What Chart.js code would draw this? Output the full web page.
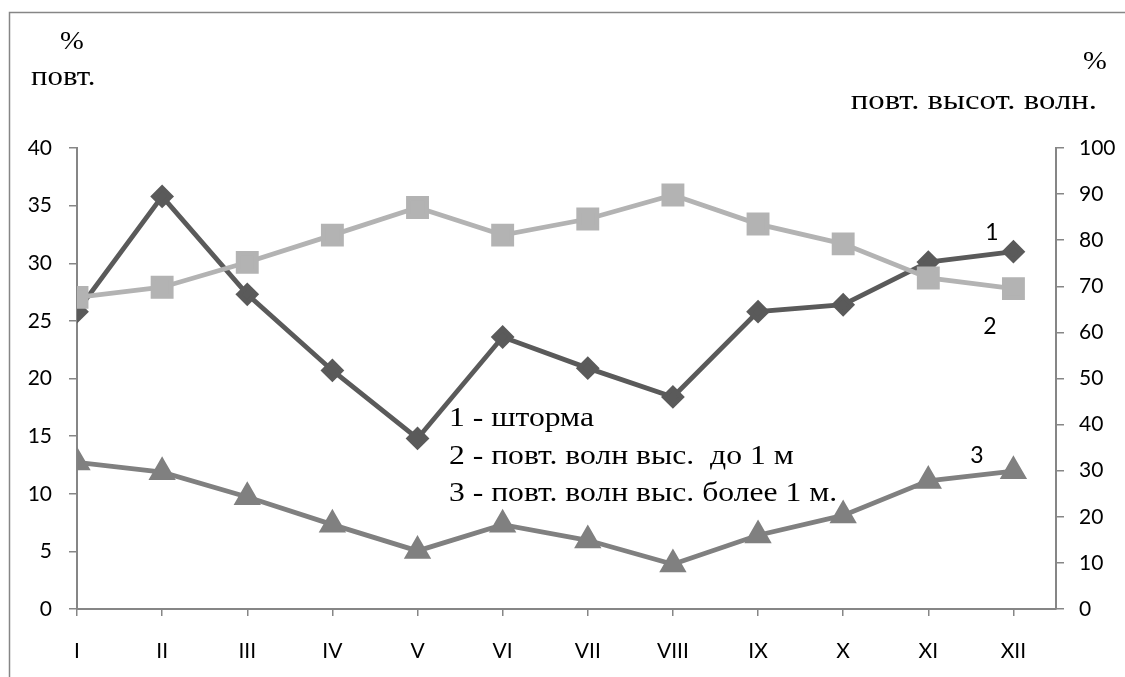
<!DOCTYPE html>
<html>
<head>
<meta charset="utf-8">
<script src="https://cdn.jsdelivr.net/npm/chart.js@4/dist/chart.umd.min.js"></script>
<style>
	html, body { margin: 0; padding: 0; background: #fff; }
	#wrap { width: 1125px; height: 677px; position: relative; }
</style>
</head>
<body>
<div id="wrap"><canvas id="chart" width="1125" height="677"></canvas></div>
<script>
const months = ["I", "II", "III", "IV", "V", "VI", "VII", "VIII", "IX", "X", "XI", "XII"];

// 1 - шторма (левая ось, %)
const storms = [25.8, 35.8, 27.3, 20.7, 14.8, 23.6, 20.9, 18.4, 25.8, 26.4, 30.1, 31.0];
// 2 - повт. волн выс. до 1 м (правая ось, %)
const wavesLow = [67.6, 69.8, 75.2, 81.1, 87.1, 81.1, 84.6, 89.8, 83.5, 79.2, 71.8, 69.5];
// 3 - повт. волн выс. более 1 м (правая ось, %)
const wavesHigh = [31.8, 29.7, 24.3, 18.3, 12.6, 18.3, 14.9, 9.7, 16.0, 20.3, 27.8, 29.9];

const leftTicks = [0, 5, 10, 15, 20, 25, 30, 35, 40];
const rightTicks = [0, 10, 20, 30, 40, 50, 60, 70, 80, 90, 100];

const legendLines = [
	"1 - шторма",
	"2 - повт. волн выс.  до 1 м",
	"3 - повт. волн выс. более 1 м.",
];

const axisColor = "#868686";
const tickFont = { family: "Lato, 'Open Sans', sans-serif", size: 21 };
const serif = "'Liberation Serif', 'Times New Roman', serif";

const toPoints = (arr) => arr.map((v, i) => ({ x: i, y: v }));

// serif text in the picture is a bit wider than the font, so stretch it
function stretchedText(ctx, text, x, y, align, sx) {
	ctx.save();
	ctx.translate(x, y);
	ctx.scale(sx, 1);
	ctx.textAlign = align;
	ctx.fillText(text, 0, 0);
	ctx.restore();
}

// рамка, подписи осей и текстовая легенда
const textPlugin = {
	id: "texts",
	afterDraw(chart) {
		const ctx = chart.ctx;
		ctx.save();
		ctx.strokeStyle = axisColor;
		ctx.lineWidth = 1.5;
		ctx.strokeRect(9.5, 12.5, 1400, 900);

		ctx.fillStyle = "#000";
		ctx.textBaseline = "middle";
		ctx.font = "26px " + serif;
		stretchedText(ctx, "%", 72, 42, "center", 1.1);
		stretchedText(ctx, "%", 1095, 62, "center", 1.1);
		ctx.font = "28px " + serif;
		stretchedText(ctx, "повт.", 31, 78, "left", 1.1);
		stretchedText(ctx, "повт. высот. волн.", 1097, 102, "right", 1.17);

		ctx.font = "28px " + serif;
		legendLines.forEach((t, i) => stretchedText(ctx, t, 449, 419 + i * 37.5, "left", 1.13));

		ctx.font = "23px Lato, sans-serif";
		ctx.textAlign = "center";
		ctx.fillText("1", 992, 233);
		ctx.fillText("2", 990, 327);
		ctx.fillText("3", 977, 456);
		ctx.restore();
	},
};

new Chart(document.getElementById("chart"), {
	type: "line",
	data: {
		datasets: [
			{
				data: toPoints(storms),
				yAxisID: "y",
				borderColor: "#5a5a5a",
				backgroundColor: "#5a5a5a",
				borderWidth: 4.8,
				pointStyle: "rectRot",
				pointRadius: 8.5,
				order: 1,
			},
			{
				data: toPoints(wavesLow),
				yAxisID: "y2",
				borderColor: "#b3b3b3",
				backgroundColor: "#b3b3b3",
				borderWidth: 4.8,
				pointStyle: "rect",
				pointRadius: 12.8,
				order: 0,
			},
			{
				data: toPoints(wavesHigh),
				yAxisID: "y2",
				borderColor: "#808080",
				backgroundColor: "#808080",
				borderWidth: 4.8,
				pointStyle: "triangle",
				pointRadius: 11,
				order: 2,
			},
		],
	},
	options: {
		responsive: false,
		animation: false,
		events: [],
		layout: { padding: { top: 148, left: 0, right: 0, bottom: 0 } },
		plugins: {
			legend: { display: false },
			tooltip: { enabled: false },
		},
		elements: {
			point: { borderWidth: 0 },
			line: { tension: 0 },
		},
		scales: {
			x: {
				type: "linear",
				min: 0,
				max: 11.5,
				afterBuildTicks: (scale) => {
					scale.ticks = months.map((_, i) => ({ value: i }));
				},
				afterFit: (scale) => { scale.height = 68; },
				grid: { drawOnChartArea: false, color: axisColor, tickLength: 7, lineWidth: 1.5 },
				border: { color: axisColor, width: 2 },
				ticks: {
					callback: (v) => months[v],
					font: tickFont,
					color: "#000",
					padding: 23,
					maxRotation: 0,
					autoSkip: false,
				},
			},
			y: {
				position: "left",
				min: 0,
				max: 40,
				afterBuildTicks: (scale) => {
					scale.ticks = leftTicks.map((v) => ({ value: v }));
				},
				afterFit: (scale) => { scale.width = 77; },
				grid: { drawOnChartArea: false, color: axisColor, tickLength: 8, lineWidth: 1.5 },
				border: { color: axisColor, width: 2 },
				ticks: { font: tickFont, color: "#000", padding: 17 },
			},
			y2: {
				position: "right",
				min: 0,
				max: 100,
				afterBuildTicks: (scale) => {
					scale.ticks = rightTicks.map((v) => ({ value: v }));
				},
				afterFit: (scale) => { scale.width = 69; },
				grid: { drawOnChartArea: false, color: axisColor, tickLength: 8, lineWidth: 1.5 },
				border: { color: axisColor, width: 2 },
				ticks: { font: tickFont, color: "#000", padding: 15 },
			},
		},
	},
	plugins: [textPlugin],
});
</script>
</body>
</html>
